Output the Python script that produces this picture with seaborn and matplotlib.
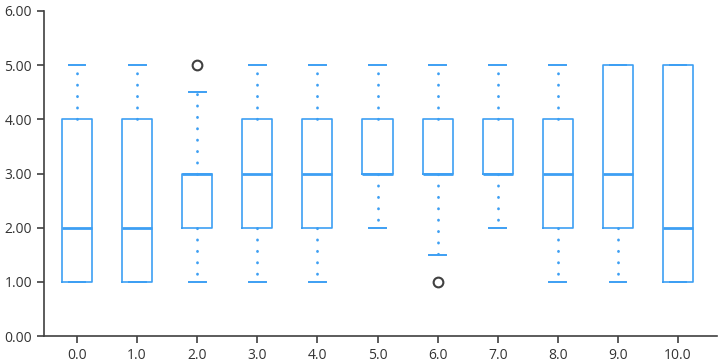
import pandas as pd
import matplotlib
matplotlib.use("Agg")
import matplotlib.pyplot as plt
import seaborn as sns

# raw responses per category, chosen to reproduce the boxes in the picture
CATEGORIES = ["0.0", "1.0", "2.0", "3.0", "4.0", "5.0", "6.0", "7.0", "8.0", "9.0", "10.0"]
VALUES = [
    [1, 1, 2, 4, 5],
    [1, 1, 2, 4, 5],
    [1, 2, 2, 2, 3, 3, 3, 3, 3, 4.5, 5],
    [1, 2, 3, 4, 5],
    [1, 2, 3, 4, 5],
    [2, 3, 3, 3, 4, 4, 5],
    [1, 1.5, 3, 3, 3, 3, 4, 4, 5],
    [2, 3, 3, 3, 4, 4, 5],
    [1, 2, 3, 4, 5],
    [1, 2, 3, 5, 5],
    [1, 1, 2, 5, 5],
]
Y_TICKS = [0, 1, 2, 3, 4, 5, 6]

BLUE = "#3d9ff3"
GREY = "#404040"

rows = [(c, v) for c, vals in zip(CATEGORIES, VALUES) for v in vals]
df = pd.DataFrame(rows, columns=["cat", "value"])

plt.rcParams["font.family"] = ["Open Sans", "DejaVu Sans"]
fig = plt.figure(figsize=(7.2, 3.63), dpi=100)
ax = fig.add_axes([0.061, 0.074, 0.935, 0.896])

sns.boxplot(
    data=df, x="cat", y="value", order=CATEGORIES,
    fill=False, color=BLUE, linecolor=BLUE, width=0.5, whis=1.5, linewidth=1.2,
    medianprops=dict(color=BLUE, linewidth=2),
    whiskerprops=dict(color=BLUE, linestyle=(0, (0.1, 4.0)), linewidth=2.0,
                      dash_capstyle="round"),
    capprops=dict(color=BLUE, linewidth=1.4),
    flierprops=dict(marker="o", markerfacecolor="none", markeredgecolor=GREY,
                    markersize=7, markeredgewidth=1.5),
    capwidths=0.28,
    ax=ax,
)

ax.set_ylim(0, 6)
ax.set_xlim(-0.55, 10.65)
ax.set_yticks(Y_TICKS)
ax.set_yticklabels([f"{t:.2f}" for t in Y_TICKS])
ax.set_xlabel("")
ax.set_ylabel("")
ax.spines[["top", "right"]].set_visible(False)
for s in ["left", "bottom"]:
    ax.spines[s].set_color(GREY)
    ax.spines[s].set_linewidth(1.2)
ax.tick_params(colors=GREY, labelsize=10, length=5, width=1.2)
for lbl in ax.get_xticklabels() + ax.get_yticklabels():
    lbl.set_color("#333333")

fig.savefig("out.png", dpi=100)
